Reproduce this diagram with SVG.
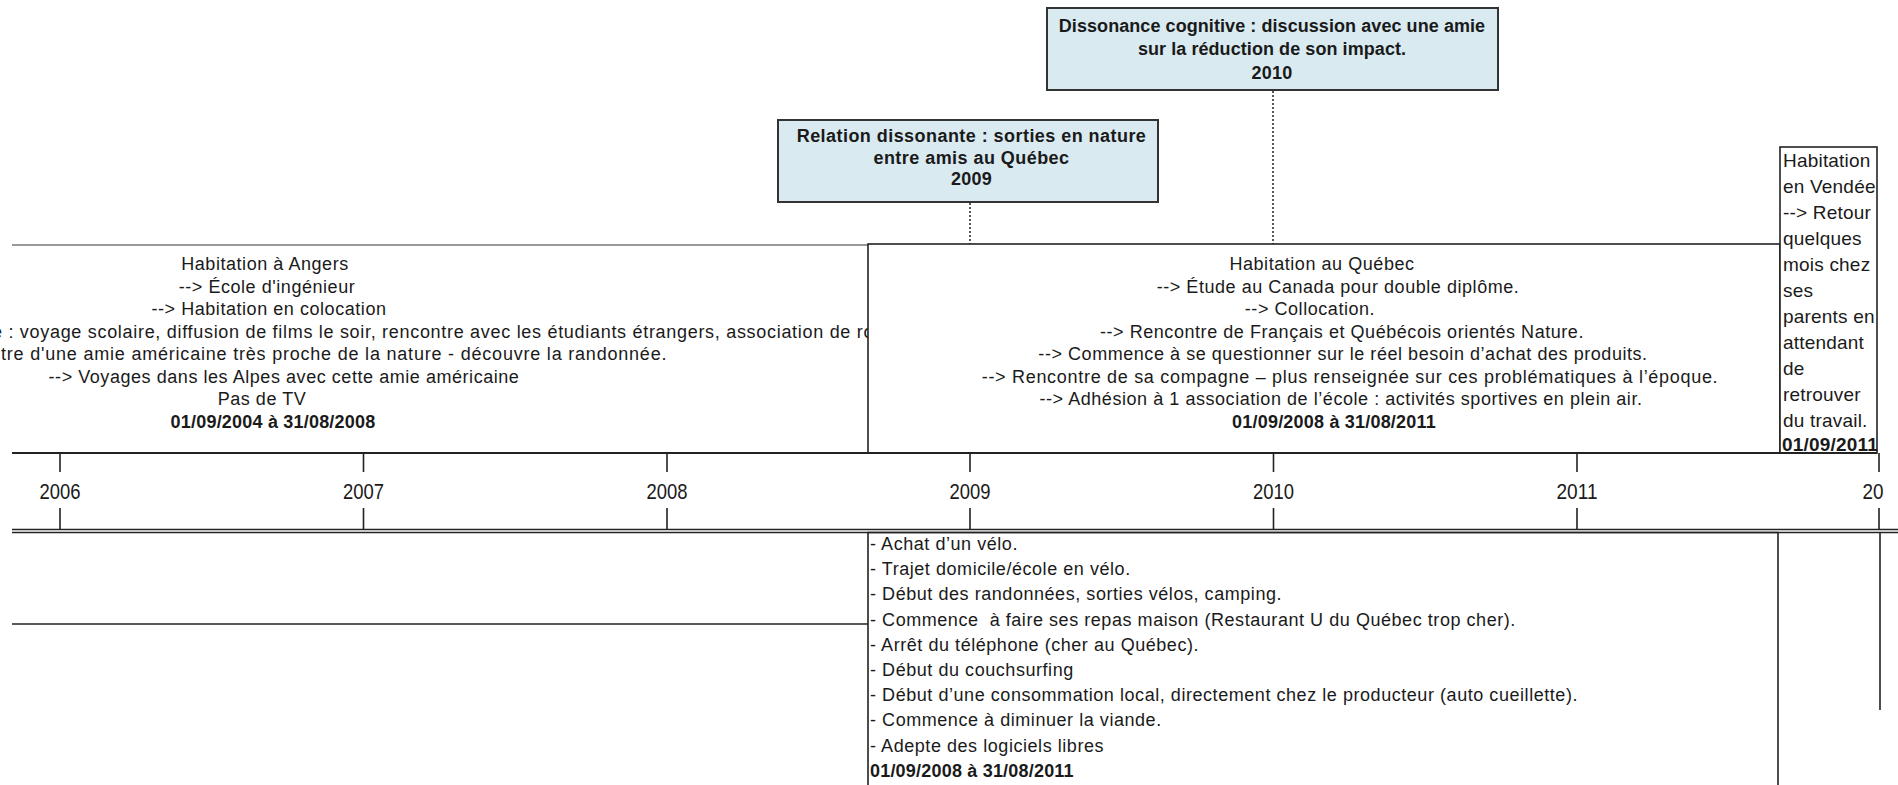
<svg xmlns="http://www.w3.org/2000/svg" width="1898" height="785" viewBox="0 0 1898 785">
<style>
  .t { font-family: "Liberation Sans", Arial, sans-serif; font-size: 18px; fill: #1a1a1a; letter-spacing: 0.55px; }
  .b { font-weight: bold; letter-spacing: 0.2px; }
  .m { text-anchor: middle; }
  .yr { font-family: "Liberation Sans", Arial, sans-serif; font-size: 22px; fill: #1a1a1a; text-anchor: middle; }
  .vd { font-family: "Liberation Sans", Arial, sans-serif; font-size: 19px; fill: #1a1a1a; letter-spacing: 0.2px; }
  .ev { fill: #d9eaf1; stroke: #333; stroke-width: 2; }
  .box { fill: #fff; stroke: #222; stroke-width: 1.6; }
  .ln { stroke: #222; stroke-width: 1.6; fill: none; }
  .dot { stroke: #222; stroke-width: 1.5; stroke-dasharray: 2 2; fill: none; }
</style>
<defs>
  <clipPath id="clipA"><rect x="0" y="245" width="868" height="208"/></clipPath>
</defs>
<rect x="0" y="0" width="1898" height="785" fill="#fff"/>

<g id="connectors">
  <line class="dot" x1="1273" y1="91" x2="1273" y2="244"/>
  <line class="dot" x1="970" y1="203" x2="970" y2="244"/>
</g>

<g id="angers">
  <line x1="12" y1="245" x2="868" y2="245" stroke="#777" stroke-width="1.5"/>
  <g clip-path="url(#clipA)">
    <text class="t m" x="265" y="270">Habitation à Angers</text>
    <text class="t m" x="267" y="292.5">--&gt; École d'ingénieur</text>
    <text class="t m" x="269" y="315">--&gt; Habitation en colocation</text>
    <text class="t" x="-8" y="337.5" textLength="882" lengthAdjust="spacing">e : voyage scolaire, diffusion de films le soir, rencontre avec les étudiants étrangers, association de ro</text>
    <text class="t" x="1" y="360" textLength="666" lengthAdjust="spacing">tre d'une amie américaine très proche de la nature - découvre la randonnée.</text>
    <text class="t m" x="284" y="382.5">--&gt; Voyages dans les Alpes avec cette amie américaine</text>
    <text class="t m" x="262" y="405">Pas de TV</text>
    <text class="t b m" x="273" y="428">01/09/2004 à 31/08/2008</text>
  </g>
</g>

<g id="quebec">
  <rect class="box" x="868" y="244" width="912" height="209"/>
  <text class="t m" x="1322" y="270">Habitation au Québec</text>
  <text class="t m" x="1338" y="292.5">--&gt; Étude au Canada pour double diplôme.</text>
  <text class="t m" x="1310" y="315">--&gt; Collocation.</text>
  <text class="t m" x="1342" y="337.5">--&gt; Rencontre de Français et Québécois orientés Nature.</text>
  <text class="t m" x="1343" y="360">--&gt; Commence à se questionner sur le réel besoin d’achat des produits.</text>
  <text class="t m" x="1350" y="382.5" style="letter-spacing:0.7px">--&gt; Rencontre de sa compagne – plus renseignée sur ces problématiques à l’époque.</text>
  <text class="t m" x="1341" y="405">--&gt; Adhésion à 1 association de l’école : activités sportives en plein air.</text>
  <text class="t b m" x="1334" y="428">01/09/2008 à 31/08/2011</text>
</g>

<g id="vendee">
  <rect class="box" x="1780" y="147" width="97" height="306"/>
  <text class="vd" x="1783" y="167">Habitation</text>
  <text class="vd" x="1783" y="193">en Vendée</text>
  <text class="vd" x="1783" y="219">--&gt; Retour</text>
  <text class="vd" x="1783" y="245">quelques</text>
  <text class="vd" x="1783" y="271">mois chez</text>
  <text class="vd" x="1783" y="297">ses</text>
  <text class="vd" x="1783" y="323">parents en</text>
  <text class="vd" x="1783" y="349">attendant</text>
  <text class="vd" x="1783" y="375">de</text>
  <text class="vd" x="1783" y="401">retrouver</text>
  <text class="vd" x="1783" y="427">du travail.</text>
  <text class="vd" x="1782" y="451" font-weight="bold" letter-spacing="0">01/09/2011</text>
</g>

<g id="evt2010">
  <rect class="ev" x="1047" y="8" width="451" height="82"/>
  <text class="t b m" x="1272" y="31.5" style="letter-spacing:0.07px">Dissonance cognitive : discussion avec une amie</text>
  <text class="t b m" x="1272" y="55" style="letter-spacing:0.07px">sur la réduction de son impact.</text>
  <text class="t b m" x="1272" y="78.5">2010</text>
</g>

<g id="evt2009">
  <rect class="ev" x="778" y="120" width="380" height="82"/>
  <text class="t b m" x="971.5" y="141.5" style="letter-spacing:0.45px">Relation dissonante : sorties en nature</text>
  <text class="t b m" x="971.5" y="163.5" style="letter-spacing:0.45px">entre amis au Québec</text>
  <text class="t b m" x="971.5" y="184.5">2009</text>
</g>

<g id="axis">
  <line x1="12" y1="453" x2="1877" y2="453" stroke="#222" stroke-width="2"/>
  <path class="ln" d="M60 453V472M363.5 453V472M667 453V472M970 453V472M1273.5 453V472M1577 453V472M1879 453V472"/>
  <path class="ln" d="M60 508V530M363.5 508V530M667 508V530M970 508V530M1273.5 508V530M1577 508V530M1879 508V530"/>
  <line x1="12" y1="529.5" x2="1898" y2="529.5" stroke="#222" stroke-width="1.3"/>
  <line x1="12" y1="532.5" x2="1898" y2="532.5" stroke="#222" stroke-width="1.3"/>
  <text class="yr" x="60" y="499" textLength="41" lengthAdjust="spacingAndGlyphs">2006</text>
  <text class="yr" x="363.5" y="499" textLength="41" lengthAdjust="spacingAndGlyphs">2007</text>
  <text class="yr" x="667" y="499" textLength="41" lengthAdjust="spacingAndGlyphs">2008</text>
  <text class="yr" x="970" y="499" textLength="41" lengthAdjust="spacingAndGlyphs">2009</text>
  <text class="yr" x="1273.5" y="499" textLength="41" lengthAdjust="spacingAndGlyphs">2010</text>
  <text class="yr" x="1577" y="499" textLength="41" lengthAdjust="spacingAndGlyphs">2011</text>
  <text class="yr" x="1873" y="499" text-anchor="start" textLength="21" lengthAdjust="spacingAndGlyphs">20</text>
</g>

<g id="left-lower">
  <line class="ln" x1="12" y1="624" x2="868" y2="624"/>
</g>

<g id="actions">
  <path class="ln" d="M868 785V532.5H1778V785"/>
  <text class="t" x="870" y="550">- Achat d’un vélo.</text>
  <text class="t" x="870" y="575.2">- Trajet domicile/école en vélo.</text>
  <text class="t" x="870" y="600.4">- Début des randonnées, sorties vélos, camping.</text>
  <text class="t" x="870" y="625.6">- Commence&#160; à faire ses repas maison (Restaurant U du Québec trop cher).</text>
  <text class="t" x="870" y="650.8">- Arrêt du téléphone (cher au Québec).</text>
  <text class="t" x="870" y="676">- Début du couchsurfing</text>
  <text class="t" x="870" y="701.2">- Début d’une consommation local, directement chez le producteur (auto cueillette).</text>
  <text class="t" x="870" y="726.4">- Commence à diminuer la viande.</text>
  <text class="t" x="870" y="751.6">- Adepte des logiciels libres</text>
  <text class="t b" x="870" y="776.8">01/09/2008 à 31/08/2011</text>
</g>

<g id="vendee-lower">
  <line class="ln" x1="1880" y1="532.5" x2="1880" y2="710"/>
</g>
</svg>
